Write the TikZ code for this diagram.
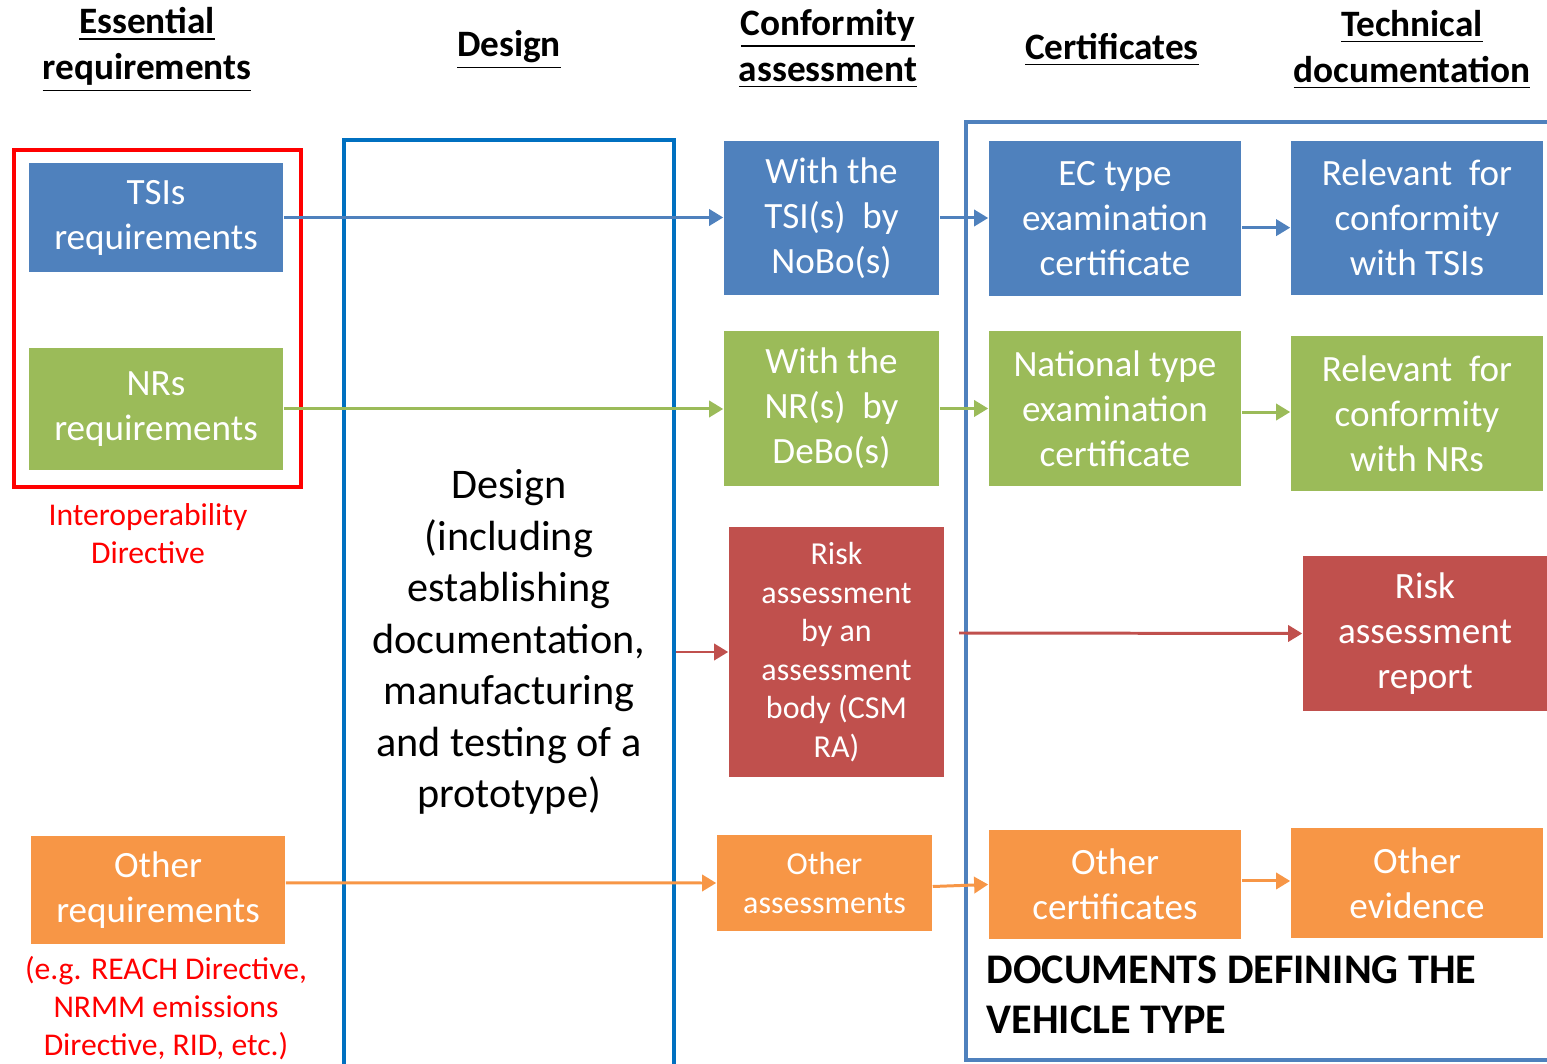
\documentclass[tikz,border=0pt]{standalone}
\usepackage{fontspec}
\setmainfont{Carlito}
\usetikzlibrary{arrows.meta}

\definecolor{tsiblue}{HTML}{4F81BD}
\definecolor{nrgreen}{HTML}{9BBB59}
\definecolor{riskred}{HTML}{C0504D}
\definecolor{othorange}{HTML}{F79646}
\definecolor{designblue}{HTML}{0070C0}
\definecolor{directred}{HTML}{FF0000}

\tikzset{
  box/.style={rectangle, inner sep=0pt, align=center, text=white,
    font=\fontsize{10.55}{12.8}\selectfont},
  smallbox/.style={box, font=\fontsize{9.1}{10.95}\selectfont},
  header/.style={align=center, inner sep=0pt,
    font=\fontsize{10.6}{13.1}\selectfont\bfseries},
  note/.style={align=center, inner sep=0pt, text=directred,
    font=\fontsize{9.0}{10.8}\selectfont},
  flow/.style={line width=0.85pt, -{Triangle[length=4pt,width=4.6pt]}}
}

\begin{document}
\begin{tikzpicture}[x=0.01cm, y=-0.01cm]
  \useasboundingbox (0,0) rectangle (1547,1064);

  % column titles
  \node[header] (ttlEss)  at (147,50) {\underline{Essential}\\\underline{requirements}};
  \node[header] (ttlDes)  at (509,50) {\underline{Design}};
  \node[header] (ttlConf) at (828,49) {\underline{Conformity}\\\underline{assessment}};
  \node[header] (ttlCert) at (1112,50) {\underline{Certificates}};
  \node[header] (ttlTech) at (1412,50) {\underline{Technical}\\\underline{documentation}};

  % frames
  \draw[directred, line width=1.15pt] (14,150) rectangle (301,487);
  \node[draw=designblue, line width=1.1pt, inner sep=0pt, minimum width=3.3cm,
    minimum height=9.4cm] (desframe) at (509,610) {};
  \draw[tsiblue, line width=1.05pt] (966,122) rectangle (1580,1060);

  \node[align=center, inner sep=0pt, font=\fontsize{12}{14.65}\selectfont] (design) at (509,642)
    {Design\\(including\\establishing\\documentation,\\manufacturing\\and testing of a\\prototype)};

  \begin{scope}[every node/.style={box, fill=tsiblue, minimum height=1.54cm}]
    \node[minimum width=2.54cm, minimum height=1.09cm] (tsi) at (156,217.5) {TSIs\\requirements};
    \node[minimum width=2.15cm] (nobo)   at (831.5,218) {With the\\TSI(s)\ \ by\\NoBo(s)};
    \node[minimum width=2.52cm] (ec)     at (1115,218.5) {EC type\\examination\\certificate};
    \node[minimum width=2.52cm] (reltsi) at (1417,218) {Relevant\ \ for\\conformity\\with TSIs};
  \end{scope}

  \begin{scope}[every node/.style={box, fill=nrgreen, minimum height=1.55cm}]
    \node[minimum width=2.54cm, minimum height=1.22cm] (nrs) at (156,409) {NRs\\requirements};
    \node[minimum width=2.15cm] (debo)  at (831.5,408.5) {With the\\NR(s)\ \ by\\DeBo(s)};
    \node[minimum width=2.52cm] (nat)   at (1115,408.5) {National type\\examination\\certificate};
    \node[minimum width=2.52cm] (relnr) at (1417,413.5) {Relevant\ \ for\\conformity\\with NRs};
  \end{scope}

  \begin{scope}[every node/.style={box, fill=riskred}]
    \node[smallbox, minimum width=2.15cm, minimum height=2.5cm] (risk) at (836.5,652)
      {Risk\\assessment\\by an\\assessment\\body (CSM\\RA)};
    \node[minimum width=2.44cm, minimum height=1.55cm] (riskrep) at (1425,633.5)
      {Risk\\assessment\\report};
  \end{scope}

  \begin{scope}[every node/.style={box, fill=othorange}]
    \node[minimum width=2.54cm, minimum height=1.08cm] (othreq) at (158,890) {Other\\requirements};
    \node[smallbox, minimum width=2.15cm, minimum height=0.96cm] (othass) at (824.5,883) {Other\\assessments};
    \node[minimum width=2.52cm, minimum height=1.09cm] (othcert) at (1115,884.5) {Other\\certificates};
    \node[minimum width=2.52cm, minimum height=1.1cm] (othev) at (1417,883) {Other\\evidence};
  \end{scope}

  \node[note] (interop) at (148,534) {Interoperability\\Directive};
  \node[note] (examples) at (166,1008) {(e.g. REACH Directive,\\NRMM emissions\\Directive, RID, etc.)};
  \node[anchor=west, align=left, inner sep=0pt,
    font=\fontsize{12}{14.2}\selectfont\bfseries] (docs) at (986,995)
    {DOCUMENTS DEFINING THE\\VEHICLE TYPE};

  \coordinate (riskfrom) at (959,633);

  \begin{scope}[every path/.style={flow}]
    \path[draw=tsiblue] (tsi.east) -- (tsi.east -| nobo.west);
    \path[draw=tsiblue] (nobo.east) -- (nobo.east -| ec.west);
    \path[draw=tsiblue] ([yshift=-2.6pt]ec.east) -- ([yshift=-2.6pt]ec.east -| reltsi.west);
    \path[draw=nrgreen] (nrs.east) -- (nrs.east -| debo.west);
    \path[draw=nrgreen] (debo.east) -- (debo.east -| nat.west);
    \path[draw=nrgreen] ([yshift=-1pt]nat.east) -- ([yshift=-1pt]nat.east -| relnr.west);
    \path[draw=riskred] (risk.west -| desframe.east) -- (risk.west);
    \path[draw=riskred] (riskfrom) -- (riskrep.west);
    \path[draw=othorange] ([yshift=2pt]othreq.east) -- (othass.west);
    \path[draw=othorange] ([yshift=-1pt]othass.east) -- (othcert.west);
    \path[draw=othorange] ([yshift=1pt]othcert.east) -- ([yshift=1pt]othcert.east -| othev.west);
  \end{scope}
\end{tikzpicture}
\end{document}
